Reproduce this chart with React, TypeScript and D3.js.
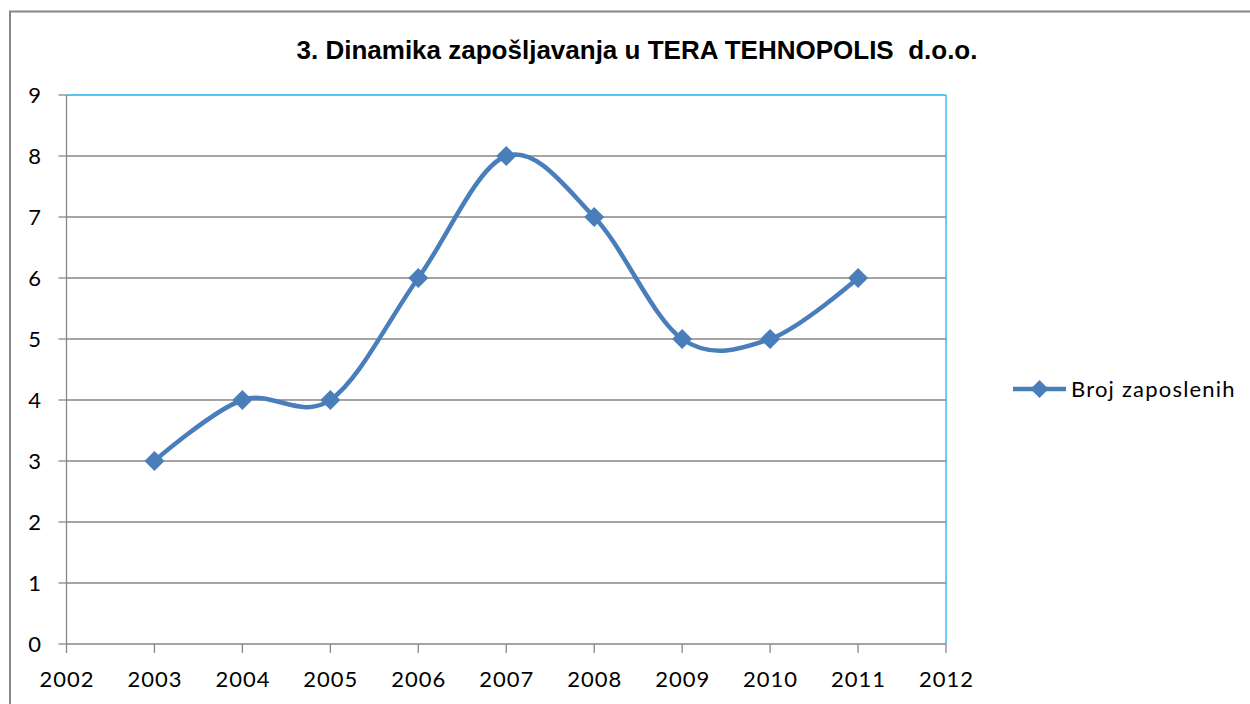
import React from 'react';
import * as d3 from 'd3';

const years = [2003, 2004, 2005, 2006, 2007, 2008, 2009, 2010, 2011];
const employees = [3, 4, 4, 6, 8, 7, 5, 5, 6];
const xTicks = [2002, 2003, 2004, 2005, 2006, 2007, 2008, 2009, 2010, 2011, 2012];
const yTicks = [0, 1, 2, 3, 4, 5, 6, 7, 8, 9];
const title = '3. Dinamika zapošljavanja u TERA TEHNOPOLIS  d.o.o.';
const seriesName = 'Broj zaposlenih';

const W = 1250;
const H = 704;
const left = 66.5;
const right = 946;
const top = 95;
const bottom = 644;
const blue = '#4A7EBB';
const labelFont = 'Lato, "Open Sans", sans-serif';

function diamond(cx: number, cy: number, r: number) {
  return `M${cx},${cy - r}L${cx + r},${cy}L${cx},${cy + r}L${cx - r},${cy}Z`;
}

export default function App() {
  const x = d3.scaleLinear().domain([2002, 2012]).range([left, right]);
  const y = d3.scaleLinear().domain([0, 9]).range([bottom, top]);

  // excel-like smoothed line
  const line = d3
    .line<number>()
    .x((d, i) => x(years[i]))
    .y((d) => y(d))
    .curve(d3.curveCardinal.tension(0));

  return (
    <svg
      width={W}
      height={H}
      style={{ position: 'absolute', left: 0, top: 0, background: '#fff' }}
    >
      {/* chart area border */}
      <rect x={10} y={11.5} width={1300} height={800} fill="#fff" stroke="#868686" strokeWidth={2} />

      <text
        x={637}
        y={59}
        textAnchor="middle"
        fontFamily="Arial, 'Liberation Sans', sans-serif"
        fontWeight="bold"
        fontSize={26}
        fill="#000"
        style={{ whiteSpace: 'pre' }}
      >
        {title}
      </text>

      {/* gridlines */}
      {yTicks.slice(1, -1).map((t) => (
        <line key={t} x1={left} x2={right} y1={y(t)} y2={y(t)} stroke="#878787" strokeWidth={1.3} />
      ))}

      {/* plot area border top/right */}
      <line x1={left} x2={right} y1={top} y2={top} stroke="#1EB4EC" strokeWidth={1.3} />
      <line x1={right} x2={right} y1={top} y2={bottom} stroke="#1EB4EC" strokeWidth={1.3} />

      {/* axes */}
      <line x1={left} x2={left} y1={top} y2={bottom} stroke="#878787" strokeWidth={1.3} />
      <line x1={left} x2={right} y1={bottom} y2={bottom} stroke="#878787" strokeWidth={1.3} />

      {yTicks.map((t) => (
        <g key={t}>
          <line x1={left - 8} x2={left} y1={y(t)} y2={y(t)} stroke="#878787" strokeWidth={1.3} />
          <text
            x={41}
            y={y(t)}
            dy="0.36em"
            textAnchor="end"
            fontFamily={labelFont}
            fontSize={22}
            fill="#000"
          >
            {t}
          </text>
        </g>
      ))}

      {xTicks.map((t) => (
        <g key={t}>
          <line x1={x(t)} x2={x(t)} y1={bottom} y2={bottom + 9} stroke="#878787" strokeWidth={1.3} />
          <text
            x={x(t) + 0.5}
            y={687}
            textAnchor="middle"
            fontFamily={labelFont}
            fontSize={22}
            letterSpacing={1}
            fill="#000"
          >
            {t}
          </text>
        </g>
      ))}

      <path d={line(employees) || ''} fill="none" stroke={blue} strokeWidth={4.5} />
      {employees.map((v, i) => (
        <path key={i} d={diamond(x(years[i]), y(v), 10)} fill={blue} />
      ))}

      {/* legend */}
      <line x1={1013} x2={1066} y1={389} y2={389} stroke={blue} strokeWidth={4.5} />
      <path d={diamond(1039.5, 389, 9)} fill={blue} />
      <text
        x={1071}
        y={389}
        dy="0.36em"
        fontFamily={labelFont}
        fontSize={22}
        letterSpacing={1.2}
        fill="#000"
      >
        {seriesName}
      </text>
    </svg>
  );
}
